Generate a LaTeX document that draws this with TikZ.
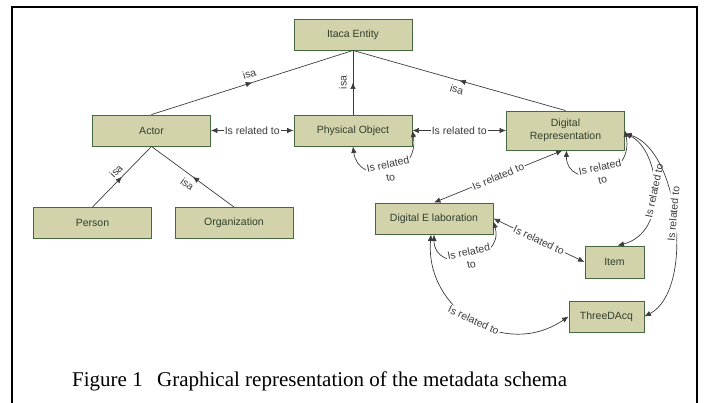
\documentclass[tikz,border=0pt]{standalone}
\usepackage{fontspec}
\setmainfont{Liberation Serif}
\newfontfamily\arialfont{Liberation Sans}
\usetikzlibrary{arrows.meta}
\usetikzlibrary{decorations.markings}
\definecolor{boxfill}{RGB}{211,211,171}
\definecolor{boxline}{RGB}{72,104,66}
\definecolor{boxtext}{RGB}{48,62,44}
\definecolor{edgecol}{RGB}{60,60,60}

\begin{document}
\begin{tikzpicture}[x=1pt,y=-1pt,>={Latex[length=6.5pt,width=5.5pt]},
  entity/.style={draw=boxline,fill=boxfill,line width=0.9pt,inner sep=0pt,text=boxtext,
    font=\arialfont\fontsize{10.5}{13.5}\selectfont,align=center,minimum height=31pt,minimum width=#1},
  entity/.default=118pt,
  isa/.style={draw=edgecol,line width=0.7pt,postaction={decorate},
    decoration={markings,mark=at position 0.5 with {\arrow{>}}}},
  rel/.style={draw=edgecol,line width=0.7pt,<->},
  lbl/.style={font=\arialfont\fontsize{10.5}{13}\selectfont,text=edgecol,inner sep=1pt,align=center},
  rellbl/.style={lbl,fill=white}]

\useasboundingbox (0,0) rectangle (704,403);
\draw [line width=1.6pt] (12,403) -- (12,7) -- (697,7) -- (697,403);

% classes
\node [entity] (ie) at (353,34.5) {Itaca Entity};
\node [entity] (actor) at (151.5,130.5) {Actor};
\node [entity] (po) at (353,130.5) {Physical Object};
\node [entity,minimum height=39pt] (dr) at (565.5,130.5) {Digital\\Representation};
\node [entity] (person) at (92.5,223) {Person};
\node [entity] (org) at (234,223) {Organization};
\node [entity] (de) at (434,218.5) {Digital E laboration};
\node [entity=59pt,minimum height=32pt] (item) at (614.5,262) {Item};
\node [entity=75pt] (td) at (606.5,316.5) {ThreeDAcq};

% isa links
\draw [isa] (actor.north) -- node[lbl,sloped,above=4pt] {isa} (ie.south);
\draw [isa] (po.north) -- node[lbl,sloped,above=5pt] {isa} (ie.south);
\draw [isa] (dr.north) -- node[lbl,sloped,below=4pt] {isa} (ie.south);
\draw [isa] (person.north) -- node[lbl,sloped,above=3pt] {isa} (actor.south);
\draw [isa] (org.north) -- node[lbl,sloped,below=4pt] {isa} (actor.south);

% relations
\draw [rel] (actor) -- node[rellbl] {Is related to} (po);
\draw [rel] (po) -- node[rellbl] {Is related to} (dr);
\draw [rel] ([xshift=-3pt]dr.south) -- node[rellbl,sloped] {Is related to} (de.north);
\draw [rel] (de.east) -- node[rellbl,sloped] {Is related to} (item.west);
\draw [rel] (po.south) .. controls (358,186) and (420,178) .. (po.east)
  node[rellbl,pos=0.52,rotate=12] {Is related\\to};
\draw [rel] ([xshift=1pt]dr.south) .. controls (566,190) and (635,180) .. (dr.east)
  node[rellbl,pos=0.52,rotate=12] {Is related\\to};
\draw [rel] (de.south) .. controls (434,275) and (505,262) .. ([yshift=-3pt]de.east)
  node[rellbl,pos=0.52,rotate=12] {Is related\\to};
\draw [rel] ([yshift=-3pt]dr.east) .. controls (660,150) and (670,232) .. ([xshift=3pt]item.north)
  node[rellbl,pos=0.5,rotate=78] {Is related to};
\draw [rel] ([yshift=-3pt]dr.east) .. controls (680,150) and (695,290) .. (td.east)
  node[rellbl,pos=0.47,rotate=85] {Is related to};
\draw [rel] ([xshift=-3pt]de.south) .. controls (425,310) and (505,360) .. (td.west)
  node[rellbl,pos=0.5,rotate=-25] {Is related to};

% caption
\node [font=\fontsize{21}{25}\selectfont,anchor=base west,inner sep=0pt] (cap) at (72,386)
  {Figure 1\hspace{14.4pt}Graphical representation of the metadata schema};
\end{tikzpicture}
\end{document}
